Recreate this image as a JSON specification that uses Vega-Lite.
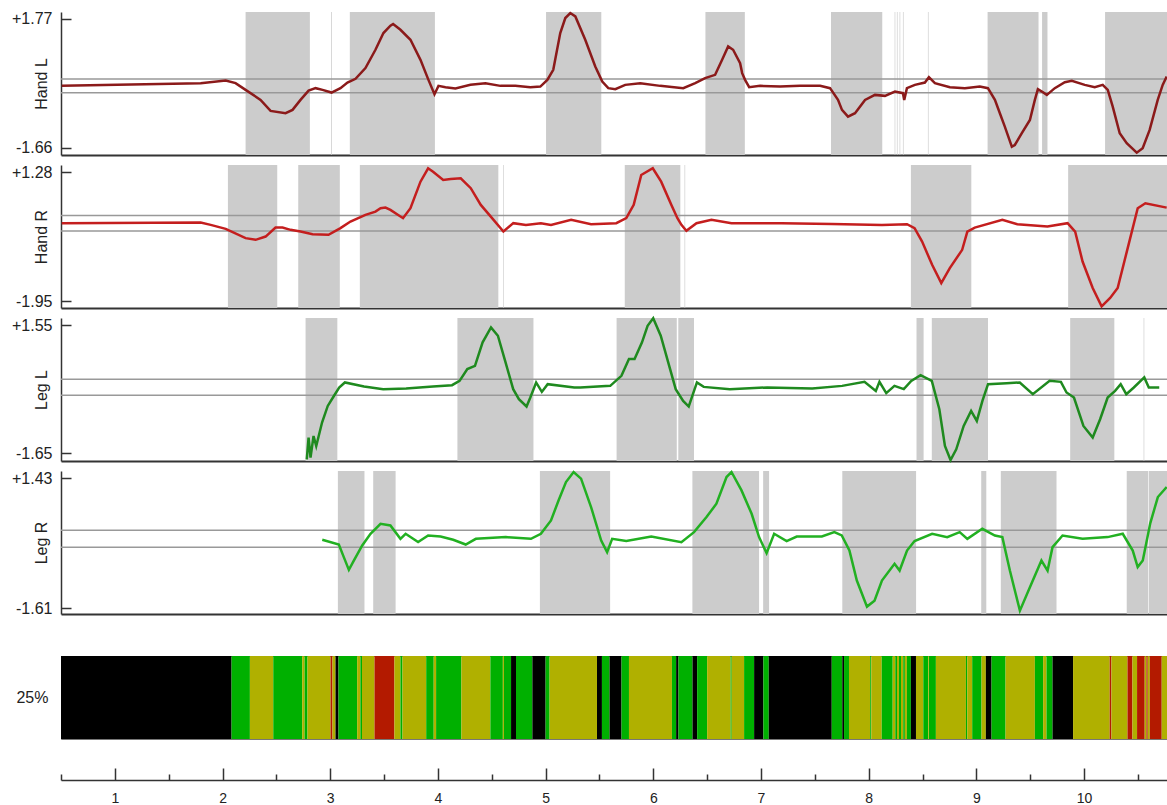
{
"$schema":"https://vega.github.io/schema/vega-lite/v6.json",
"background":"white",
"padding":{"left":11,"top":8,"right":0,"bottom":0},
"config":{"font":"Liberation Sans","view":{"stroke":null},"axis":{"labelFont":"Liberation Sans","titleFont":"Liberation Sans","labelFontSize":16,"titleFontSize":16,"titleFontWeight":"normal","labelColor":"#222","titleColor":"#222","grid":false,"domainColor":"#333","tickColor":"#333"}},
"datasets":{
"shades":[
{"p":1,"s":2.214,"e":2.811},{"p":1,"s":3.008,"e":3.015},{"p":1,"s":3.182,"e":3.972},{"p":1,"s":5.004,"e":5.517},{"p":1,"s":6.484,"e":6.85},{"p":1,"s":7.65,"e":8.126},{"p":1,"s":8.241,"e":8.247},{"p":1,"s":8.262,"e":8.268},{"p":1,"s":8.287,"e":8.293},{"p":1,"s":8.318,"e":8.324},{"p":1,"s":8.55,"e":8.556},{"p":1,"s":9.104,"e":9.577},{"p":1,"s":9.61,"e":9.66},{"p":1,"s":10.195,"e":10.77},
{"p":2,"s":2.05,"e":2.508},{"p":2,"s":2.703,"e":3.089},{"p":2,"s":3.275,"e":4.561},{"p":2,"s":4.605,"e":4.611},{"p":2,"s":5.735,"e":6.251},{"p":2,"s":6.29,"e":6.296},{"p":2,"s":8.392,"e":8.953},{"p":2,"s":9.852,"e":10.77},
{"p":3,"s":2.771,"e":3.066},{"p":3,"s":4.181,"e":4.887},{"p":3,"s":5.659,"e":6.218},{"p":3,"s":6.232,"e":6.378},{"p":3,"s":8.444,"e":8.51},{"p":3,"s":8.586,"e":9.108},{"p":3,"s":9.871,"e":10.281},{"p":3,"s":10.553,"e":10.559},
{"p":4,"s":3.071,"e":3.318},{"p":4,"s":3.399,"e":3.607},{"p":4,"s":4.947,"e":5.599},{"p":4,"s":6.363,"e":6.982},{"p":4,"s":7.02,"e":7.075},{"p":4,"s":7.755,"e":8.44},{"p":4,"s":9.045,"e":9.092},{"p":4,"s":9.227,"e":9.744},{"p":4,"s":10.396,"e":10.594},{"p":4,"s":10.6,"e":10.77}
],
"refs":[
{"p":1,"v":0.17},{"p":1,"v":-0.2},{"p":2,"v":0.2},{"p":2,"v":-0.19},{"p":3,"v":0.2},{"p":3,"v":-0.2},{"p":4,"v":0.21},{"p":4,"v":-0.19}
],
"lines":[
{"p":1,"t":0.507,"v":-0.016},{"p":1,"t":1.797,"v":0.056},{"p":1,"t":2.029,"v":0.126},{"p":1,"t":2.121,"v":0.056},{"p":1,"t":2.214,"v":-0.122},{"p":1,"t":2.353,"v":-0.389},{"p":1,"t":2.446,"v":-0.682},{"p":1,"t":2.585,"v":-0.743},{"p":1,"t":2.65,"v":-0.655},{"p":1,"t":2.724,"v":-0.389},{"p":1,"t":2.799,"v":-0.141},{"p":1,"t":2.864,"v":-0.077},{"p":1,"t":2.929,"v":-0.122},{"p":1,"t":3.012,"v":-0.194},{"p":1,"t":3.095,"v":-0.077},{"p":1,"t":3.16,"v":0.072},{"p":1,"t":3.235,"v":0.171},{"p":1,"t":3.327,"v":0.456},{"p":1,"t":3.42,"v":0.944},{"p":1,"t":3.494,"v":1.389},{"p":1,"t":3.559,"v":1.583},{"p":1,"t":3.584,"v":1.629},{"p":1,"t":3.652,"v":1.477},{"p":1,"t":3.745,"v":1.21},{"p":1,"t":3.838,"v":0.677},{"p":1,"t":3.912,"v":0.144},{"p":1,"t":3.968,"v":-0.237},{"p":1,"t":4.005,"v":-0.016},{"p":1,"t":4.07,"v":-0.05},{"p":1,"t":4.162,"v":-0.088},{"p":1,"t":4.302,"v":0.011},{"p":1,"t":4.441,"v":0.056},{"p":1,"t":4.58,"v":-0.016},{"p":1,"t":4.719,"v":-0.016},{"p":1,"t":4.858,"v":-0.05},{"p":1,"t":4.951,"v":-0.034},{"p":1,"t":5.016,"v":0.144},{"p":1,"t":5.071,"v":0.411},{"p":1,"t":5.136,"v":1.389},{"p":1,"t":5.183,"v":1.789},{"p":1,"t":5.229,"v":1.922},{"p":1,"t":5.276,"v":1.831},{"p":1,"t":5.368,"v":1.21},{"p":1,"t":5.461,"v":0.499},{"p":1,"t":5.526,"v":0.099},{"p":1,"t":5.582,"v":-0.077},{"p":1,"t":5.647,"v":-0.104},{"p":1,"t":5.739,"v":0.011},{"p":1,"t":5.879,"v":0.056},{"p":1,"t":6.064,"v":-0.016},{"p":1,"t":6.278,"v":-0.077},{"p":1,"t":6.389,"v":0.056},{"p":1,"t":6.481,"v":0.19},{"p":1,"t":6.574,"v":0.277},{"p":1,"t":6.639,"v":0.677},{"p":1,"t":6.695,"v":1.032},{"p":1,"t":6.741,"v":0.944},{"p":1,"t":6.806,"v":0.589},{"p":1,"t":6.825,"v":0.323},{"p":1,"t":6.852,"v":0.144},{"p":1,"t":6.89,"v":-0.05},{"p":1,"t":6.992,"v":-0.016},{"p":1,"t":7.177,"v":-0.034},{"p":1,"t":7.363,"v":-0.016},{"p":1,"t":7.549,"v":-0.016},{"p":1,"t":7.641,"v":-0.077},{"p":1,"t":7.715,"v":-0.389},{"p":1,"t":7.752,"v":-0.655},{"p":1,"t":7.808,"v":-0.834},{"p":1,"t":7.873,"v":-0.743},{"p":1,"t":7.966,"v":-0.389},{"p":1,"t":8.058,"v":-0.256},{"p":1,"t":8.151,"v":-0.282},{"p":1,"t":8.244,"v":-0.168},{"p":1,"t":8.318,"v":-0.21},{"p":1,"t":8.33,"v":-0.389},{"p":1,"t":8.355,"v":-0.077},{"p":1,"t":8.429,"v":0.011},{"p":1,"t":8.522,"v":0.072},{"p":1,"t":8.559,"v":0.216},{"p":1,"t":8.615,"v":0.056},{"p":1,"t":8.754,"v":-0.05},{"p":1,"t":8.893,"v":-0.077},{"p":1,"t":9.032,"v":-0.034},{"p":1,"t":9.107,"v":-0.077},{"p":1,"t":9.172,"v":-0.389},{"p":1,"t":9.218,"v":-0.743},{"p":1,"t":9.264,"v":-1.1},{"p":1,"t":9.329,"v":-1.634},{"p":1,"t":9.357,"v":-1.588},{"p":1,"t":9.422,"v":-1.276},{"p":1,"t":9.497,"v":-0.922},{"p":1,"t":9.543,"v":-0.389},{"p":1,"t":9.571,"v":-0.104},{"p":1,"t":9.608,"v":-0.168},{"p":1,"t":9.654,"v":-0.256},{"p":1,"t":9.728,"v":-0.077},{"p":1,"t":9.821,"v":0.083},{"p":1,"t":9.886,"v":0.118},{"p":1,"t":10.006,"v":0.011},{"p":1,"t":10.099,"v":-0.05},{"p":1,"t":10.173,"v":0.011},{"p":1,"t":10.22,"v":-0.122},{"p":1,"t":10.266,"v":-0.567},{"p":1,"t":10.331,"v":-1.276},{"p":1,"t":10.396,"v":-1.543},{"p":1,"t":10.489,"v":-1.793},{"p":1,"t":10.544,"v":-1.676},{"p":1,"t":10.609,"v":-1.188},{"p":1,"t":10.684,"v":-0.389},{"p":1,"t":10.73,"v":0.011},{"p":1,"t":10.767,"v":0.232},
{"p":2,"t":0.507,"v":0.007},{"p":2,"t":1.797,"v":0.022},{"p":2,"t":1.89,"v":-0.036},{"p":2,"t":2.029,"v":-0.135},{"p":2,"t":2.214,"v":-0.368},{"p":2,"t":2.307,"v":-0.41},{"p":2,"t":2.4,"v":-0.328},{"p":2,"t":2.492,"v":-0.103},{"p":2,"t":2.557,"v":-0.103},{"p":2,"t":2.632,"v":-0.16},{"p":2,"t":2.724,"v":-0.203},{"p":2,"t":2.836,"v":-0.268},{"p":2,"t":2.984,"v":-0.285},{"p":2,"t":3.095,"v":-0.118},{"p":2,"t":3.188,"v":0.047},{"p":2,"t":3.327,"v":0.214},{"p":2,"t":3.42,"v":0.296},{"p":2,"t":3.467,"v":0.381},{"p":2,"t":3.513,"v":0.396},{"p":2,"t":3.559,"v":0.339},{"p":2,"t":3.676,"v":0.132},{"p":2,"t":3.745,"v":0.381},{"p":2,"t":3.838,"v":1.045},{"p":2,"t":3.909,"v":1.38},{"p":2,"t":3.955,"v":1.295},{"p":2,"t":4.049,"v":1.088},{"p":2,"t":4.119,"v":1.113},{"p":2,"t":4.212,"v":1.13},{"p":2,"t":4.305,"v":0.881},{"p":2,"t":4.398,"v":0.464},{"p":2,"t":4.491,"v":0.172},{"p":2,"t":4.608,"v":-0.203},{"p":2,"t":4.7,"v":0.007},{"p":2,"t":4.817,"v":-0.036},{"p":2,"t":4.956,"v":0.007},{"p":2,"t":5.05,"v":-0.036},{"p":2,"t":5.237,"v":0.089},{"p":2,"t":5.422,"v":-0.018},{"p":2,"t":5.656,"v":0.007},{"p":2,"t":5.749,"v":0.132},{"p":2,"t":5.818,"v":0.464},{"p":2,"t":5.888,"v":1.213},{"p":2,"t":5.995,"v":1.38},{"p":2,"t":6.073,"v":1.045},{"p":2,"t":6.168,"v":0.464},{"p":2,"t":6.224,"v":0.132},{"p":2,"t":6.261,"v":-0.036},{"p":2,"t":6.307,"v":-0.185},{"p":2,"t":6.401,"v":0.007},{"p":2,"t":6.54,"v":0.089},{"p":2,"t":6.726,"v":0.007},{"p":2,"t":7.192,"v":0.007},{"p":2,"t":7.658,"v":-0.011},{"p":2,"t":8.123,"v":-0.036},{"p":2,"t":8.356,"v":-0.018},{"p":2,"t":8.426,"v":-0.118},{"p":2,"t":8.496,"v":-0.452},{"p":2,"t":8.589,"v":-1.034},{"p":2,"t":8.674,"v":-1.491},{"p":2,"t":8.753,"v":-1.116},{"p":2,"t":8.868,"v":-0.66},{"p":2,"t":8.916,"v":-0.203},{"p":2,"t":8.985,"v":-0.103},{"p":2,"t":9.241,"v":0.089},{"p":2,"t":9.38,"v":-0.018},{"p":2,"t":9.66,"v":-0.078},{"p":2,"t":9.847,"v":0.007},{"p":2,"t":9.917,"v":-0.203},{"p":2,"t":9.986,"v":-0.952},{"p":2,"t":10.08,"v":-1.616},{"p":2,"t":10.163,"v":-2.075},{"p":2,"t":10.242,"v":-1.865},{"p":2,"t":10.312,"v":-1.616},{"p":2,"t":10.405,"v":-0.617},{"p":2,"t":10.498,"v":0.381},{"p":2,"t":10.569,"v":0.506},{"p":2,"t":10.767,"v":0.396},
{"p":3,"t":2.782,"v":-1.8},{"p":3,"t":2.799,"v":-1.258},{"p":3,"t":2.817,"v":-1.758},{"p":3,"t":2.845,"v":-1.218},{"p":3,"t":2.87,"v":-1.468},{"p":3,"t":2.924,"v":-0.883},{"p":3,"t":2.977,"v":-0.468},{"p":3,"t":3.031,"v":-0.233},{"p":3,"t":3.083,"v":-0.008},{"p":3,"t":3.136,"v":0.117},{"p":3,"t":3.314,"v":0.017},{"p":3,"t":3.492,"v":-0.05},{"p":3,"t":3.705,"v":-0.033},{"p":3,"t":3.954,"v":0.017},{"p":3,"t":4.131,"v":0.05},{"p":3,"t":4.201,"v":0.157},{"p":3,"t":4.273,"v":0.45},{"p":3,"t":4.344,"v":0.532},{"p":3,"t":4.415,"v":1.117},{"p":3,"t":4.493,"v":1.492},{"p":3,"t":4.557,"v":1.282},{"p":3,"t":4.628,"v":0.617},{"p":3,"t":4.699,"v":-0.05},{"p":3,"t":4.752,"v":-0.3},{"p":3,"t":4.823,"v":-0.483},{"p":3,"t":4.858,"v":-0.258},{"p":3,"t":4.912,"v":0.117},{"p":3,"t":4.965,"v":-0.118},{"p":3,"t":5.019,"v":0.075},{"p":3,"t":5.266,"v":-0.008},{"p":3,"t":5.322,"v":-0.008},{"p":3,"t":5.6,"v":0.032},{"p":3,"t":5.704,"v":0.282},{"p":3,"t":5.774,"v":0.7},{"p":3,"t":5.826,"v":0.7},{"p":3,"t":5.895,"v":1.117},{"p":3,"t":5.947,"v":1.532},{"p":3,"t":5.999,"v":1.718},{"p":3,"t":6.069,"v":1.282},{"p":3,"t":6.156,"v":0.45},{"p":3,"t":6.208,"v":-0.05},{"p":3,"t":6.277,"v":-0.343},{"p":3,"t":6.329,"v":-0.483},{"p":3,"t":6.405,"v":0.117},{"p":3,"t":6.468,"v":0.007},{"p":3,"t":6.711,"v":-0.05},{"p":3,"t":7.058,"v":-0.008},{"p":3,"t":7.475,"v":-0.033},{"p":3,"t":7.753,"v":0.032},{"p":3,"t":7.961,"v":0.132},{"p":3,"t":8.066,"v":-0.093},{"p":3,"t":8.1,"v":0.132},{"p":3,"t":8.163,"v":-0.15},{"p":3,"t":8.239,"v":0.032},{"p":3,"t":8.326,"v":-0.05},{"p":3,"t":8.395,"v":0.157},{"p":3,"t":8.482,"v":0.3},{"p":3,"t":8.586,"v":0.157},{"p":3,"t":8.656,"v":-0.55},{"p":3,"t":8.708,"v":-1.468},{"p":3,"t":8.76,"v":-1.818},{"p":3,"t":8.813,"v":-1.55},{"p":3,"t":8.882,"v":-0.968},{"p":3,"t":8.951,"v":-0.593},{"p":3,"t":9.004,"v":-0.843},{"p":3,"t":9.056,"v":-0.343},{"p":3,"t":9.108,"v":0.075},{"p":3,"t":9.281,"v":0.1},{"p":3,"t":9.403,"v":0.117},{"p":3,"t":9.524,"v":-0.175},{"p":3,"t":9.68,"v":0.157},{"p":3,"t":9.785,"v":0.132},{"p":3,"t":9.837,"v":-0.133},{"p":3,"t":9.906,"v":-0.258},{"p":3,"t":9.994,"v":-0.968},{"p":3,"t":10.08,"v":-1.258},{"p":3,"t":10.149,"v":-0.8},{"p":3,"t":10.219,"v":-0.258},{"p":3,"t":10.288,"v":-0.093},{"p":3,"t":10.34,"v":0.075},{"p":3,"t":10.392,"v":-0.175},{"p":3,"t":10.462,"v":-0.008},{"p":3,"t":10.559,"v":0.242},{"p":3,"t":10.601,"v":-0.008},{"p":3,"t":10.698,"v":-0.008},
{"p":4,"t":2.926,"v":-0.015},{"p":4,"t":3.08,"v":-0.125},{"p":4,"t":3.126,"v":-0.42},{"p":4,"t":3.173,"v":-0.718},{"p":4,"t":3.219,"v":-0.5},{"p":4,"t":3.297,"v":-0.148},{"p":4,"t":3.374,"v":0.126},{"p":4,"t":3.467,"v":0.36},{"p":4,"t":3.559,"v":0.32},{"p":4,"t":3.652,"v":0.008},{"p":4,"t":3.7,"v":0.126},{"p":4,"t":3.816,"v":-0.069},{"p":4,"t":3.909,"v":0.086},{"p":4,"t":4.025,"v":0.062},{"p":4,"t":4.142,"v":-0.015},{"p":4,"t":4.258,"v":-0.125},{"p":4,"t":4.352,"v":0.008},{"p":4,"t":4.631,"v":0.048},{"p":4,"t":4.864,"v":0.008},{"p":4,"t":4.956,"v":0.126},{"p":4,"t":5.05,"v":0.437},{"p":4,"t":5.12,"v":0.905},{"p":4,"t":5.189,"v":1.336},{"p":4,"t":5.26,"v":1.571},{"p":4,"t":5.329,"v":1.414},{"p":4,"t":5.422,"v":0.751},{"p":4,"t":5.516,"v":-0.031},{"p":4,"t":5.571,"v":-0.303},{"p":4,"t":5.618,"v":0.008},{"p":4,"t":5.749,"v":-0.045},{"p":4,"t":5.981,"v":0.062},{"p":4,"t":6.261,"v":-0.069},{"p":4,"t":6.378,"v":0.165},{"p":4,"t":6.494,"v":0.517},{"p":4,"t":6.586,"v":0.828},{"p":4,"t":6.68,"v":1.453},{"p":4,"t":6.726,"v":1.571},{"p":4,"t":6.819,"v":1.14},{"p":4,"t":6.913,"v":0.594},{"p":4,"t":6.982,"v":0.048},{"p":4,"t":7.052,"v":-0.326},{"p":4,"t":7.122,"v":0.126},{"p":4,"t":7.238,"v":-0.045},{"p":4,"t":7.332,"v":0.062},{"p":4,"t":7.565,"v":0.062},{"p":4,"t":7.681,"v":0.165},{"p":4,"t":7.75,"v":0.086},{"p":4,"t":7.821,"v":-0.266},{"p":4,"t":7.89,"v":-0.968},{"p":4,"t":7.984,"v":-1.577},{"p":4,"t":8.054,"v":-1.437},{"p":4,"t":8.123,"v":-0.968},{"p":4,"t":8.24,"v":-0.577},{"p":4,"t":8.287,"v":-0.734},{"p":4,"t":8.356,"v":-0.266},{"p":4,"t":8.426,"v":-0.045},{"p":4,"t":8.589,"v":0.126},{"p":4,"t":8.729,"v":0.048},{"p":4,"t":8.845,"v":0.165},{"p":4,"t":8.916,"v":0.008},{"p":4,"t":9.055,"v":0.243},{"p":4,"t":9.172,"v":0.086},{"p":4,"t":9.241,"v":0.048},{"p":4,"t":9.311,"v":-0.734},{"p":4,"t":9.404,"v":-1.671},{"p":4,"t":9.497,"v":-1.123},{"p":4,"t":9.604,"v":-0.5},{"p":4,"t":9.661,"v":-0.734},{"p":4,"t":9.707,"v":-0.186},{"p":4,"t":9.8,"v":0.086},{"p":4,"t":9.986,"v":0.008},{"p":4,"t":10.219,"v":0.048},{"p":4,"t":10.359,"v":0.126},{"p":4,"t":10.452,"v":-0.266},{"p":4,"t":10.498,"v":-0.654},{"p":4,"t":10.545,"v":-0.5},{"p":4,"t":10.615,"v":0.376},{"p":4,"t":10.685,"v":0.985},{"p":4,"t":10.767,"v":1.219}
],
"strip":[
{"s":0.5,"e":2.084,"st":"K"},{"s":2.084,"e":2.254,"st":"G"},{"s":2.254,"e":2.471,"st":"O"},{"s":2.471,"e":2.74,"st":"G"},{"s":2.74,"e":2.762,"st":"O"},{"s":2.762,"e":2.789,"st":"G"},{"s":2.789,"e":3.003,"st":"O"},{"s":3.003,"e":3.021,"st":"R"},{"s":3.021,"e":3.049,"st":"O"},{"s":3.049,"e":3.077,"st":"K"},{"s":3.077,"e":3.25,"st":"G"},{"s":3.25,"e":3.28,"st":"O"},{"s":3.28,"e":3.295,"st":"G"},{"s":3.295,"e":3.411,"st":"O"},{"s":3.411,"e":3.596,"st":"R"},{"s":3.596,"e":3.652,"st":"O"},{"s":3.652,"e":3.671,"st":"G"},{"s":3.671,"e":3.891,"st":"O"},{"s":3.891,"e":3.961,"st":"G"},{"s":3.961,"e":3.983,"st":"O"},{"s":3.983,"e":4.218,"st":"G"},{"s":4.218,"e":4.487,"st":"O"},{"s":4.487,"e":4.603,"st":"G"},{"s":4.603,"e":4.613,"st":"O"},{"s":4.613,"e":4.679,"st":"G"},{"s":4.679,"e":4.725,"st":"K"},{"s":4.725,"e":4.877,"st":"G"},{"s":4.877,"e":5.0,"st":"K"},{"s":5.0,"e":5.037,"st":"G"},{"s":5.037,"e":5.477,"st":"O"},{"s":5.477,"e":5.523,"st":"K"},{"s":5.523,"e":5.594,"st":"G"},{"s":5.594,"e":5.705,"st":"K"},{"s":5.705,"e":5.774,"st":"G"},{"s":5.774,"e":6.173,"st":"O"},{"s":6.173,"e":6.212,"st":"G"},{"s":6.212,"e":6.234,"st":"K"},{"s":6.234,"e":6.364,"st":"G"},{"s":6.364,"e":6.407,"st":"K"},{"s":6.407,"e":6.5,"st":"G"},{"s":6.5,"e":6.718,"st":"O"},{"s":6.718,"e":6.728,"st":"G"},{"s":6.728,"e":6.843,"st":"O"},{"s":6.843,"e":6.936,"st":"G"},{"s":6.936,"e":7.022,"st":"K"},{"s":7.022,"e":7.072,"st":"G"},{"s":7.072,"e":7.657,"st":"K"},{"s":7.657,"e":7.755,"st":"G"},{"s":7.755,"e":7.771,"st":"K"},{"s":7.771,"e":7.817,"st":"G"},{"s":7.817,"e":8.014,"st":"O"},{"s":8.014,"e":8.024,"st":"G"},{"s":8.024,"e":8.121,"st":"O"},{"s":8.121,"e":8.223,"st":"G"},{"s":8.223,"e":8.247,"st":"O"},{"s":8.247,"e":8.263,"st":"G"},{"s":8.263,"e":8.281,"st":"O"},{"s":8.281,"e":8.3,"st":"G"},{"s":8.3,"e":8.321,"st":"O"},{"s":8.321,"e":8.336,"st":"G"},{"s":8.336,"e":8.355,"st":"O"},{"s":8.355,"e":8.392,"st":"G"},{"s":8.392,"e":8.439,"st":"K"},{"s":8.439,"e":8.507,"st":"O"},{"s":8.507,"e":8.553,"st":"G"},{"s":8.553,"e":8.56,"st":"O"},{"s":8.56,"e":8.624,"st":"G"},{"s":8.624,"e":8.903,"st":"O"},{"s":8.903,"e":8.915,"st":"G"},{"s":8.915,"e":8.961,"st":"O"},{"s":8.961,"e":9.048,"st":"G"},{"s":9.048,"e":9.088,"st":"O"},{"s":9.088,"e":9.141,"st":"K"},{"s":9.141,"e":9.271,"st":"G"},{"s":9.271,"e":9.543,"st":"O"},{"s":9.543,"e":9.62,"st":"G"},{"s":9.62,"e":9.651,"st":"O"},{"s":9.651,"e":9.707,"st":"G"},{"s":9.707,"e":9.898,"st":"K"},{"s":9.898,"e":10.238,"st":"O"},{"s":10.238,"e":10.254,"st":"R"},{"s":10.254,"e":10.403,"st":"O"},{"s":10.403,"e":10.449,"st":"R"},{"s":10.449,"e":10.492,"st":"O"},{"s":10.492,"e":10.563,"st":"R"},{"s":10.563,"e":10.579,"st":"O"},{"s":10.579,"e":10.591,"st":"R"},{"s":10.591,"e":10.61,"st":"O"},{"s":10.61,"e":10.721,"st":"R"},{"s":10.721,"e":10.77,"st":"O"}
]
},
"vconcat":[
{"vconcat":[
{"width":1106,"height":143,"layer":[
{"data":{"name":"shades"},"transform":[{"filter":"datum.p==1"}],"mark":{"type":"rect","color":"#cccccc"},"encoding":{"x":{"field":"s","type":"quantitative","scale":{"domain":[0.5,10.77],"nice":false,"zero":false},"axis":{"labels":false,"ticks":false,"title":null,"domainWidth":2}},"x2":{"field":"e"}}},
{"data":{"name":"refs"},"transform":[{"filter":"datum.p==1"}],"mark":{"type":"rule","color":"#999999","strokeWidth":1.5},"encoding":{"y":{"field":"v","type":"quantitative","scale":{"domain":[-1.855,1.949],"nice":false,"zero":false},"axis":{"values":[-1.66,1.77],"labelExpr":"(datum.value>0?'+':'-')+format(abs(datum.value),'.2f')","title":"Hand L","titleX":-20,"titleY":71.5,"titleAngle":-90,"titleAlign":"center","titleBaseline":"middle","tickSize":-10,"labelPadding":19,"domainWidth":1.5,"tickWidth":1.5}}}},
{"data":{"name":"lines"},"transform":[{"filter":"datum.p==1"}],"mark":{"type":"line","color":"#8b1a1a","strokeWidth":2.5},"encoding":{"x":{"field":"t","type":"quantitative","axis":{"labels":false,"ticks":false,"title":null,"domainWidth":2}},"y":{"field":"v","type":"quantitative","axis":{"values":[-1.66,1.77],"labelExpr":"(datum.value>0?'+':'-')+format(abs(datum.value),'.2f')","title":"Hand L","titleX":-20,"titleY":71.5,"titleAngle":-90,"titleAlign":"center","titleBaseline":"middle","tickSize":-10,"labelPadding":19,"domainWidth":1.5,"tickWidth":1.5}}}}
]},
{"width":1106,"height":143,"layer":[
{"data":{"name":"shades"},"transform":[{"filter":"datum.p==2"}],"mark":{"type":"rect","color":"#cccccc"},"encoding":{"x":{"field":"s","type":"quantitative","scale":{"domain":[0.5,10.77],"nice":false,"zero":false},"axis":{"labels":false,"ticks":false,"title":null,"domainWidth":2}},"x2":{"field":"e"}}},
{"data":{"name":"refs"},"transform":[{"filter":"datum.p==2"}],"mark":{"type":"rule","color":"#999999","strokeWidth":1.5},"encoding":{"y":{"field":"v","type":"quantitative","scale":{"domain":[-2.115,1.462],"nice":false,"zero":false},"axis":{"values":[-1.95,1.28],"labelExpr":"(datum.value>0?'+':'-')+format(abs(datum.value),'.2f')","title":"Hand R","titleX":-20,"titleY":71.5,"titleAngle":-90,"titleAlign":"center","titleBaseline":"middle","tickSize":-10,"labelPadding":19,"domainWidth":1.5,"tickWidth":1.5}}}},
{"data":{"name":"lines"},"transform":[{"filter":"datum.p==2"}],"mark":{"type":"line","color":"#c41e1e","strokeWidth":2.5},"encoding":{"x":{"field":"t","type":"quantitative","axis":{"labels":false,"ticks":false,"title":null,"domainWidth":2}},"y":{"field":"v","type":"quantitative","axis":{"values":[-1.95,1.28],"labelExpr":"(datum.value>0?'+':'-')+format(abs(datum.value),'.2f')","title":"Hand R","titleX":-20,"titleY":71.5,"titleAngle":-90,"titleAlign":"center","titleBaseline":"middle","tickSize":-10,"labelPadding":19,"domainWidth":1.5,"tickWidth":1.5}}}}
]},
{"width":1106,"height":143,"layer":[
{"data":{"name":"shades"},"transform":[{"filter":"datum.p==3"}],"mark":{"type":"rect","color":"#cccccc"},"encoding":{"x":{"field":"s","type":"quantitative","scale":{"domain":[0.5,10.77],"nice":false,"zero":false},"axis":{"labels":false,"ticks":false,"title":null,"domainWidth":2}},"x2":{"field":"e"}}},
{"data":{"name":"refs"},"transform":[{"filter":"datum.p==3"}],"mark":{"type":"rule","color":"#999999","strokeWidth":1.5},"encoding":{"y":{"field":"v","type":"quantitative","scale":{"domain":[-1.842,1.725],"nice":false,"zero":false},"axis":{"values":[-1.65,1.55],"labelExpr":"(datum.value>0?'+':'-')+format(abs(datum.value),'.2f')","title":"Leg L","titleX":-20,"titleY":71.5,"titleAngle":-90,"titleAlign":"center","titleBaseline":"middle","tickSize":-10,"labelPadding":19,"domainWidth":1.5,"tickWidth":1.5}}}},
{"data":{"name":"lines"},"transform":[{"filter":"datum.p==3"}],"mark":{"type":"line","color":"#1f8a1f","strokeWidth":2.5},"encoding":{"x":{"field":"t","type":"quantitative","axis":{"labels":false,"ticks":false,"title":null,"domainWidth":2}},"y":{"field":"v","type":"quantitative","axis":{"values":[-1.65,1.55],"labelExpr":"(datum.value>0?'+':'-')+format(abs(datum.value),'.2f')","title":"Leg L","titleX":-20,"titleY":71.5,"titleAngle":-90,"titleAlign":"center","titleBaseline":"middle","tickSize":-10,"labelPadding":19,"domainWidth":1.5,"tickWidth":1.5}}}}
]},
{"width":1106,"height":143,"layer":[
{"data":{"name":"shades"},"transform":[{"filter":"datum.p==4"}],"mark":{"type":"rect","color":"#cccccc"},"encoding":{"x":{"field":"s","type":"quantitative","scale":{"domain":[0.5,10.77],"nice":false,"zero":false},"axis":{"labels":false,"ticks":false,"title":null,"domainWidth":2}},"x2":{"field":"e"}}},
{"data":{"name":"refs"},"transform":[{"filter":"datum.p==4"}],"mark":{"type":"rule","color":"#999999","strokeWidth":1.5},"encoding":{"y":{"field":"v","type":"quantitative","scale":{"domain":[-1.75,1.594],"nice":false,"zero":false},"axis":{"values":[-1.61,1.43],"labelExpr":"(datum.value>0?'+':'-')+format(abs(datum.value),'.2f')","title":"Leg R","titleX":-20,"titleY":71.5,"titleAngle":-90,"titleAlign":"center","titleBaseline":"middle","tickSize":-10,"labelPadding":19,"domainWidth":1.5,"tickWidth":1.5}}}},
{"data":{"name":"lines"},"transform":[{"filter":"datum.p==4"}],"mark":{"type":"line","color":"#22b022","strokeWidth":2.5},"encoding":{"x":{"field":"t","type":"quantitative","axis":{"labels":false,"ticks":false,"title":null,"domainWidth":2}},"y":{"field":"v","type":"quantitative","axis":{"values":[-1.61,1.43],"labelExpr":"(datum.value>0?'+':'-')+format(abs(datum.value),'.2f')","title":"Leg R","titleX":-20,"titleY":71.5,"titleAngle":-90,"titleAlign":"center","titleBaseline":"middle","tickSize":-10,"labelPadding":19,"domainWidth":1.5,"tickWidth":1.5}}}}
]}
],"spacing":10,"bounds":"flush"},
{"width":1106,"height":83,"view":{"stroke":"#777777","strokeWidth":1},"data":{"name":"strip"},
"layer":[
{"mark":{"type":"rect"},"encoding":{"x":{"field":"s","type":"quantitative","scale":{"domain":[0.5,10.77],"nice":false,"zero":false},"axis":{"orient":"bottom","offset":41,"values":[1,2,3,4,5,6,7,8,9,10],"tickSize":-12,"labelPadding":23,"labelFontSize":14,"title":null,"domainWidth":1.5,"tickWidth":1.5}},"x2":{"field":"e"},"y":{"datum":"25%","type":"nominal","scale":{"paddingInner":0,"paddingOuter":0},"axis":{"title":null,"ticks":false,"domain":false,"labelPadding":13}},"color":{"field":"st","type":"nominal","scale":{"domain":["K","G","O","R"],"range":["#000000","#00b000","#b0b000","#b31a00"]},"legend":null}}},
{"mark":{"type":"rect","opacity":0},"encoding":{"x":{"field":"s","type":"quantitative","axis":{"orient":"bottom","offset":41,"values":[0.5,1.5,2.5,3.5,4.5,5.5,6.5,7.5,8.5,9.5,10.5],"tickSize":-6,"labels":false,"domain":false,"title":null,"tickWidth":1.5}},"x2":{"field":"e"}}}
],
"resolve":{"axis":{"x":"independent"}}}
],"spacing":38
}
